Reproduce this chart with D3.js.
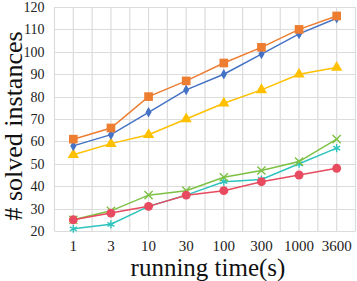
<!DOCTYPE html>
<html>
<head>
<meta charset="utf-8">
<script src="https://cdn.jsdelivr.net/npm/d3@7"></script>
<style>
  body { margin: 0; background: #fff; }
</style>
</head>
<body>
<div id="chart"></div>
<script>
"use strict";

// data
var times = ["1", "3", "10", "30", "100", "300", "1000", "3600"];
var yTicks = [20, 30, 40, 50, 60, 70, 80, 90, 100, 110, 120];

var orangeVals = [61, 66, 80, 87, 95, 102, 110, 116];
var blueVals   = [58, 63, 73, 83, 90, 99, 108, 115];
var yellowVals = [54, 59, 63, 70, 77, 83, 90, 93];
var greenVals  = [25, 29, 36, 38, 44, 47, 51, 61];
var cyanVals   = [21, 23, 31, 36, 42, 43, 50, 57];
var redVals    = [25, 28, 31, 36, 38, 42, 45, 48];

var series = [
  { vals: yellowVals, color: "#ffc000", shape: "triangle" },
  { vals: blueVals,   color: "#4472c4", shape: "diamond" },
  { vals: orangeVals, color: "#ed7d31", shape: "square" },
  { vals: cyanVals,   color: "#2ec4be", shape: "star" },
  { vals: greenVals,  color: "#7cc142", shape: "cross" },
  { vals: redVals,    color: "#e84a5f", shape: "circle" }
];

var FONT = "'Liberation Serif', 'Times New Roman', 'DejaVu Serif', serif";

var W = 357, H = 281;
var margin = { top: 7, right: 1.5, bottom: 50, left: 54.5 };
var w = W - margin.left - margin.right;
var h = H - margin.top - margin.bottom;

var svg = d3.select("#chart").append("svg")
    .attr("width", W)
    .attr("height", H)
  .append("g")
    .attr("transform", "translate(" + margin.left + "," + margin.top + ")");

var x = d3.scaleBand().domain(times).range([0, w]).padding(0);
var bw = x.bandwidth();
var cx = d => x(d) + bw / 2;
var y = d3.scaleLinear().domain([20, 120]).range([h, 0]);

// grid: horizontal at each tick, vertical at band edges and centres
var grid = svg.append("g").attr("class", "grid");
grid.selectAll("line.h").data(yTicks).join("line")
    .attr("class", "h")
    .attr("x1", 0).attr("x2", w)
    .attr("y1", d => Math.round(y(d)) + 0.5).attr("y2", d => Math.round(y(d)) + 0.5)
    .attr("stroke", "#dcdcdc").attr("stroke-width", 1.2);

var vx = [];
times.forEach(function(t) { vx.push(x(t)); vx.push(cx(t)); });
vx.push(w);
grid.selectAll("line.v").data(vx).join("line")
    .attr("class", "v")
    .attr("x1", d => d).attr("x2", d => d)
    .attr("y1", 0).attr("y2", h)
    .attr("stroke", "#dcdcdc").attr("stroke-width", 1.2);

// y tick labels
svg.append("g").selectAll("text").data(yTicks).join("text")
    .attr("x", -10)
    .attr("y", d => y(d))
    .attr("dy", "0.35em")
    .attr("text-anchor", "end")
    .attr("font-family", FONT)
    .attr("font-size", "14px")
    .attr("fill", "#222")
    .text(d => d);

// x tick labels
svg.append("g").selectAll("text").data(times).join("text")
    .attr("x", d => cx(d))
    .attr("y", h + 19.5)
    .attr("text-anchor", "middle")
    .attr("font-family", FONT)
    .attr("font-size", "15px")
    .attr("fill", "#222")
    .text(d => d);

// axis titles
svg.append("text")
    .attr("x", w / 2 + 3)
    .attr("y", h + 44.5)
    .attr("text-anchor", "middle")
    .attr("font-family", FONT)
    .attr("font-size", "25px")
    .attr("fill", "#111")
    .text("running time(s)");

svg.append("text")
    .attr("transform", "translate(" + (-margin.left + 22) + "," + (h / 2 + 7) + ") rotate(-90)")
    .attr("text-anchor", "middle")
    .attr("font-family", FONT)
    .attr("font-size", "26px")
    .attr("fill", "#111")
    .text("# solved instances");

// lines and markers
var line = d3.line()
    .x((d, i) => cx(times[i]))
    .y(d => y(d));

var symbolOf = {
  triangle: d3.symbol().type(d3.symbolTriangle).size(55),
  diamond:  d3.symbol().type(d3.symbolDiamond).size(32),
  square:   d3.symbol().type(d3.symbolSquare).size(75),
  circle:   d3.symbol().type(d3.symbolCircle).size(62),
  cross:    d3.symbol().type(d3.symbolX).size(45),
  star:     d3.symbol().type(d3.symbolAsterisk).size(45)
};

series.forEach(function(s) {
  var g = svg.append("g");
  g.append("path")
      .datum(s.vals)
      .attr("d", line)
      .attr("fill", "none")
      .attr("stroke", s.color)
      .attr("stroke-width", 1.5);

  var open = s.shape === "cross" || s.shape === "star";
  g.selectAll("path.m").data(s.vals).join("path")
      .attr("class", "m")
      .attr("transform", (d, i) => "translate(" + cx(times[i]) + "," + y(d) + ")")
      .attr("d", symbolOf[s.shape])
      .attr("fill", open ? "none" : s.color)
      .attr("stroke", s.color)
      .attr("stroke-width", open ? 1.4 : 0);
});
</script>
</body>
</html>
